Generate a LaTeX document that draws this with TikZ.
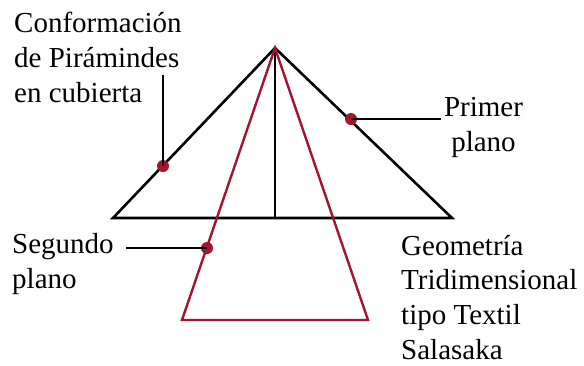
\documentclass[tikz,border=0pt]{standalone}
\usepackage{fontspec}
\setmainfont{Liberation Serif}
\definecolor{pyred}{RGB}{165,20,45}
\begin{document}
\begin{tikzpicture}[x=1pt,y=-1pt,
  blk/.style={line width=2.6pt,black},
  rd/.style={line width=2.4pt,pyred},
  lead/.style={line width=2.6pt,black},
  dotm/.style={circle,fill=pyred,inner sep=0pt,minimum size=12pt},
  lbl/.style={inner sep=0pt,font=\fontsize{29}{34.8}\selectfont}]
\useasboundingbox (0,0) rectangle (584,365);
% geometry
\coordinate (apex) at (275,48);
\coordinate (bl) at (113,218);
\coordinate (br) at (452,218);
\coordinate (bm) at (275,218);
\coordinate (rl) at (182,320);
\coordinate (rr) at (368,320);
\draw[blk,line join=miter] (bl) -- (apex) -- (br) -- cycle;
\draw[blk] (apex) -- (bm);
\draw[rd,line join=miter] (rl) -- (apex) -- (rr) -- cycle;
% dots
\node[dotm] (d1) at (163,166) {};
\node[dotm] (d2) at (351,119) {};
\node[dotm] (d3) at (207,248) {};
% leader ends
\coordinate (e1) at (163,75);
\coordinate (e2) at (441,119);
\coordinate (e3) at (126,248);
\draw[lead] (d1.center) -- (e1);
\draw[lead] (d2.center) -- (e2);
\draw[lead] (d3.center) -- (e3);
% labels (base anchor = last line)
\node[lbl,anchor=base west,align=left] (t1) at (14,102.3) {Conformación\\de Pirámindes\\en cubierta};
\node[lbl,anchor=base,align=center] (t2) at (483.5,151) {Primer\\plano};
\node[lbl,anchor=base west,align=left] (t3) at (12,288) {Segundo\\plano};
\node[lbl,anchor=base west,align=left] (t4) at (401,359.5) {Geometría\\Tridimensional\\tipo Textil\\Salasaka};
\end{tikzpicture}
\end{document}
